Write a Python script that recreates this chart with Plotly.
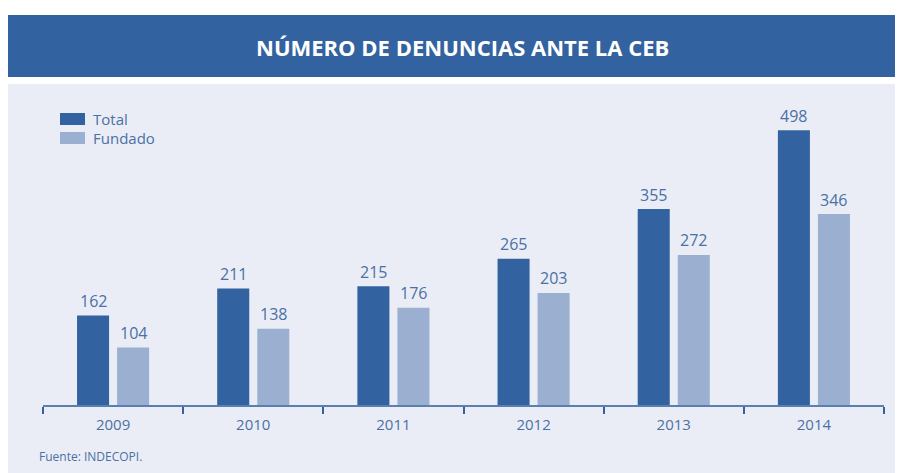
import plotly.graph_objects as go

years = ["2009", "2010", "2011", "2012", "2013", "2014"]
total = [162, 211, 215, 265, 355, 498]
fundado = [104, 138, 176, 203, 272, 346]

TITLE = "NÚMERO DE DENUNCIAS ANTE LA CEB"
SOURCE = "Fuente: INDECOPI."

C_DARK = "#3263a0"
C_LIGHT = "#9bb0d0"
C_PANEL = "#eaedf5"
C_TEXT = "#4a70a6"
FONT = "Open Sans"

# page body has an 8px margin, so the figure starts at (8, 8) of the screenshot
OFF = 8
W, H = 895, 465
ML, MR, MT, MB = 35, 19, 99, 68
PW = W - ML - MR
PH = H - MT - MB


def px_x(x):
    """screenshot x -> paper x"""
    return (x - OFF - ML) / PW


def px_y(y):
    """screenshot y -> paper y"""
    return (H - MB - (y - OFF)) / PH


fig = go.Figure()
fig.add_trace(go.Bar(
    x=years, y=total, name="Total", marker=dict(color=C_DARK, line=dict(width=0)),
    showlegend=False,
))
fig.add_trace(go.Bar(
    x=years, y=fundado, name="Fundado", marker=dict(color=C_LIGHT, line=dict(width=0)),
    showlegend=False,
))

shapes = [
    dict(type="rect", xref="paper", yref="paper", x0=px_x(8), x1=px_x(904), y0=px_y(474), y1=px_y(84),
         fillcolor=C_PANEL, line=dict(width=0), layer="below"),
    dict(type="rect", xref="paper", yref="paper", x0=px_x(8), x1=px_x(904), y0=px_y(77), y1=px_y(15),
         fillcolor=C_DARK, line=dict(width=0), layer="below"),
    dict(type="rect", xref="paper", yref="paper", x0=px_x(60), x1=px_x(85), y0=px_y(125), y1=px_y(113),
         fillcolor=C_DARK, line=dict(width=0)),
    dict(type="rect", xref="paper", yref="paper", x0=px_x(60), x1=px_x(85), y0=px_y(144), y1=px_y(132),
         fillcolor=C_LIGHT, line=dict(width=0)),
]

annotations = [
    dict(text="<b>" + TITLE + "</b>", xref="paper", yref="paper", x=px_x(462), y=px_y(47),
         xanchor="center", yanchor="middle", showarrow=False,
         font=dict(family=FONT, size=22, color="white")),
    dict(text="Total", xref="paper", yref="paper", x=px_x(91), y=px_y(119),
         xanchor="left", yanchor="middle", showarrow=False,
         font=dict(family=FONT, size=15, color=C_TEXT)),
    dict(text="Fundado", xref="paper", yref="paper", x=px_x(91), y=px_y(138),
         xanchor="left", yanchor="middle", showarrow=False,
         font=dict(family=FONT, size=15, color=C_TEXT)),
    dict(text=SOURCE, xref="paper", yref="paper", x=px_x(37), y=px_y(456),
         xanchor="left", yanchor="middle", showarrow=False,
         font=dict(family=FONT, size=12, color=C_TEXT)),
]

# value labels above bars (x given as category index)
for i, v in enumerate(total):
    annotations.append(dict(x=i, y=v, xref="x", yref="y", text=str(v), showarrow=False,
                            xanchor="center", yanchor="middle", xshift=-20, yshift=14.5,
                            font=dict(family=FONT, size=16, color=C_TEXT)))
for i, v in enumerate(fundado):
    annotations.append(dict(x=i, y=v, xref="x", yref="y", text=str(v), showarrow=False,
                            xanchor="center", yanchor="middle", xshift=20, yshift=14.5,
                            font=dict(family=FONT, size=16, color=C_TEXT)))

fig.update_layout(
    width=W, height=H,
    margin=dict(l=ML, r=MR, t=MT, b=MB, pad=0),
    paper_bgcolor="white", plot_bgcolor="rgba(0,0,0,0)",
    barmode="group", bargap=0.4286, bargroupgap=0.2,
    shapes=shapes, annotations=annotations,
    showlegend=False,
    xaxis=dict(type="category", range=[-0.5, 5.5], showgrid=False, zeroline=False,
               showline=True, linecolor="#5a7fb2", linewidth=1.5,
               ticks="outside", tickson="boundaries", ticklen=7, tickwidth=1.5, tickcolor="#3263a0",
               ticklabelstandoff=5,
               tickfont=dict(family=FONT, size=15, color=C_TEXT), fixedrange=True),
    yaxis=dict(range=[0, 540], visible=False, showgrid=False, zeroline=False, fixedrange=True),
    font=dict(family=FONT),
)

fig.write_html("out.html")
